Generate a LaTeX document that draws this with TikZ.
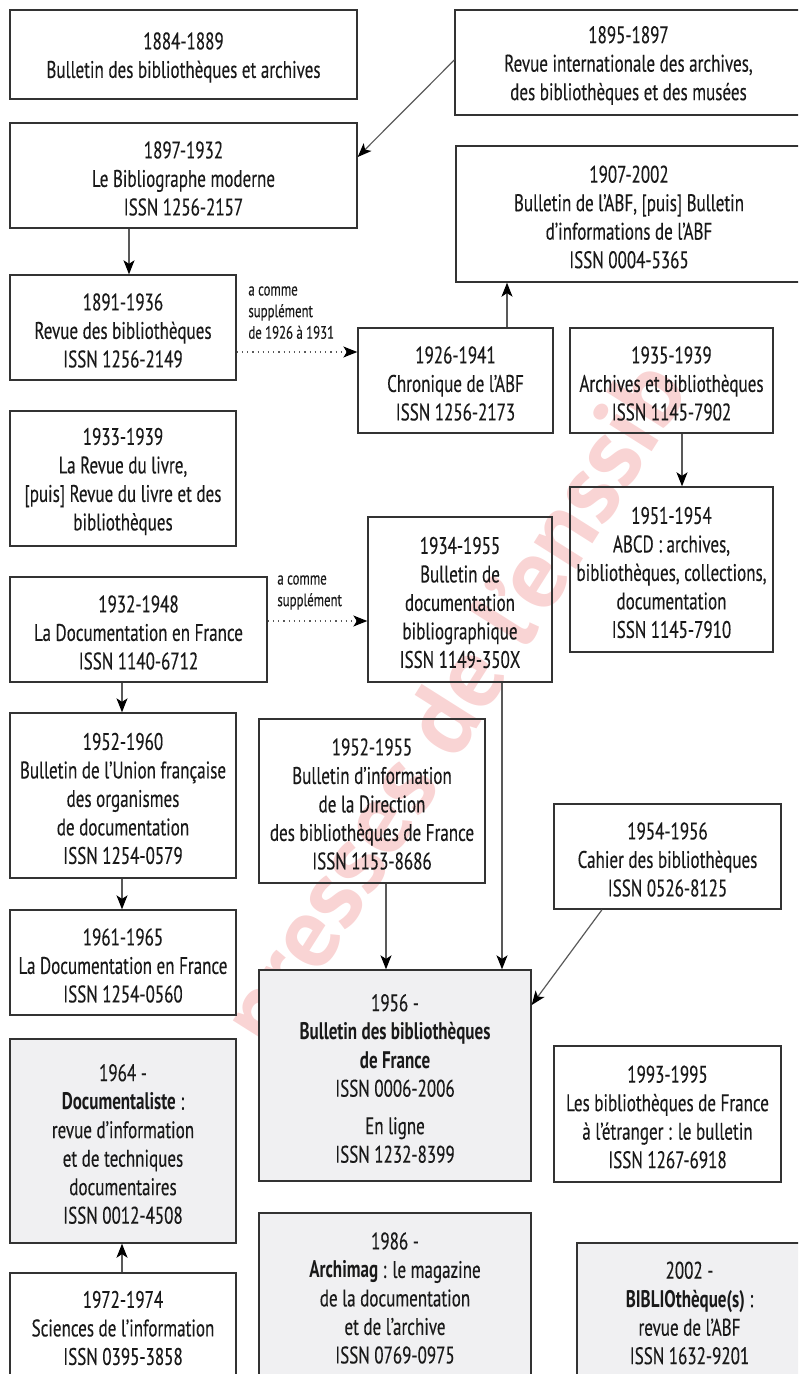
\documentclass[tikz,border=0pt]{standalone}
\usepackage{fontspec}
\setmainfont{PT Sans}[FakeStretch=0.71, UprightFeatures={FakeBold=0.25}]
\newfontfamily\wmfont{PT Sans}
\usetikzlibrary{arrows.meta,calc}
\definecolor{boxgray}{RGB}{240,240,242}
\definecolor{wmred}{RGB}{249,212,212}
\newcommand\mybox[7]{%
  \node[#1, minimum width={(#4-#2)*0.5pt}, minimum height={(#5-#3)*0.5pt}] (#6) at ({(#2+#4)/2},{(#3+#5)/2}) {};
  \node[boxtext] (#6t) at ($(#6.center)+(0,3)$) {#7};}
\begin{document}
\begin{tikzpicture}[x=0.5pt,y=-0.5pt,
  box/.style={draw=black!80, line width=0.7pt, inner sep=0pt},
  gbox/.style={box, fill=boxgray},
  boxtext/.style={align=center, inner sep=0pt, text=black!90, font=\fontsize{12}{14.25}\selectfont},
  arr/.style={draw=black!65, line width=0.6pt, -{Stealth[length=7pt,width=5.5pt,inset=1.8pt,color=black]}},
  darr/.style={arr, dotted},
  lab/.style={align=left, inner sep=0pt, anchor=north west, text=black!90, font=\fontsize{9}{10.8}\selectfont}]
\useasboundingbox (0,0) rectangle (798,1374);
\clip (0,0) rectangle (798,1374);
\node[rotate=57.7, font=\wmfont\bfseries\fontsize{50}{50}\selectfont, text=wmred] (wm) at (460,707) {presses de l’enssib};

\mybox{box}{10}{10}{357}{99}{b1}{1884-1889\\Bulletin des bibliothèques et archives}
\mybox{box}{455}{10}{802}{115}{b2}{1895-1897\\Revue internationale des archives,\\des bibliothèques et des musées}
\mybox{box}{10}{123}{357}{228}{b3}{1897-1932\\Le Bibliographe moderne\\ISSN 1256-2157}
\mybox{box}{456}{146}{802}{282}{b4}{1907-2002\\Bulletin de l’ABF, [puis] Bulletin\\d’informations de l’ABF\\ISSN 0004-5365}
\mybox{box}{10}{275}{236}{380}{b5}{1891-1936\\Revue des bibliothèques\\ISSN 1256-2149}
\mybox{box}{358}{328}{553}{433}{b6}{1926-1941\\Chronique de l’ABF\\ISSN 1256-2173}
\mybox{box}{570}{328}{773}{433}{b7}{1935-1939\\Archives et bibliothèques\\ISSN 1145-7902}
\mybox{box}{570}{487}{773}{652}{b8}{1951-1954\\ABCD : archives,\\bibliothèques, collections,\\documentation\\ISSN 1145-7910}
\mybox{box}{10}{411}{236}{546}{b9}{1933-1939\\La Revue du livre,\\{[puis]} Revue du livre et des\\bibliothèques}
\mybox{box}{10}{577}{267}{682}{b10}{1932-1948\\La Documentation en France\\ISSN 1140-6712}
\mybox{box}{368}{517}{552}{682}{b11}{1934-1955\\Bulletin de\\documentation\\bibliographique\\ISSN 1149-350X}
\mybox{box}{10}{713}{236}{878}{b12}{1952-1960\\Bulletin de l’Union française\\des organismes\\de documentation\\ISSN 1254-0579}
\mybox{box}{259}{719}{485}{883}{b13}{1952-1955\\Bulletin d’information\\de la Direction\\des bibliothèques de France\\ISSN 1153-8686}
\mybox{box}{10}{910}{236}{1015}{b14}{1961-1965\\La Documentation en France\\ISSN 1254-0560}
\mybox{box}{554}{804}{781}{909}{b15}{1954-1956\\Cahier des bibliothèques\\ISSN 0526-8125}
\mybox{gbox}{259}{970}{531}{1181}{b16}{1956 -\\\textbf{Bulletin des bibliothèques}\\\textbf{de France}\\ISSN 0006-2006\\[4.5pt]En ligne\\ISSN 1232-8399}
\mybox{box}{554}{1046}{781}{1182}{b17}{1993-1995\\Les bibliothèques de France\\à l’étranger : le bulletin\\ISSN 1267-6918}
\mybox{gbox}{10}{1039}{236}{1243}{b18}{1964 -\\\textbf{Documentaliste} :\\revue d’information\\et de techniques\\documentaires\\ISSN 0012-4508}
\mybox{box}{10}{1273}{236}{1377}{b19}{1972-1974\\Sciences de l’information\\ISSN 0395-3858}
\mybox{gbox}{259}{1213}{531}{1377}{b20}{1986 -\\\textbf{Archimag} : le magazine\\de la documentation\\et de l’archive\\ISSN 0769-0975}
\mybox{gbox}{577}{1243}{802}{1377}{b21}{2002 -\\\textbf{BIBLIOthèque(s)} :\\revue de l’ABF\\ISSN 1632-9201}

\node[lab] (l1) at (248,280) {\strut a comme\\supplément\\de 1926 à 1931};
\node[lab] (l2) at (277,569) {\strut a comme\\supplément};

% named helper coordinates
\coordinate (s1) at (455,60);
\coordinate (e1) at (358,157);
\coordinate (x129) at (129,0);
\coordinate (x507) at (507,0);
\coordinate (x682) at (682,0);
\coordinate (x122) at (122,0);
\coordinate (x386) at (386,0);
\coordinate (x502) at (502,0);
\coordinate (y352) at (0,352);
\coordinate (y621) at (0,621);
\coordinate (s2) at (602,909);
\coordinate (e2) at (531,1005);

\draw[arr] (b2.west |- s1) -- (b3.east |- e1);
\draw[arr] (b3.south -| x129) -- (b5.north -| x129);
\draw[darr] (b5.east |- y352) -- (b6.west |- y352);
\draw[arr] (b6.north -| x507) -- (b4.south -| x507);
\draw[arr] (b7.south -| x682) -- (b8.north -| x682);
\draw[darr] (b10.east |- y621) -- (b11.west |- y621);
\draw[arr] (b10.south -| x122) -- (b12.north -| x122);
\draw[arr] (b12.south -| x122) -- (b14.north -| x122);
\draw[arr] (b13.south -| x386) -- (b16.north -| x386);
\draw[arr] (b11.south -| x502) -- (b16.north -| x502);
\draw[arr] (b15.south -| s2) -- (b16.east |- e2);
\draw[arr] (b19.north -| x122) -- (b18.south -| x122);
\end{tikzpicture}
\end{document}
